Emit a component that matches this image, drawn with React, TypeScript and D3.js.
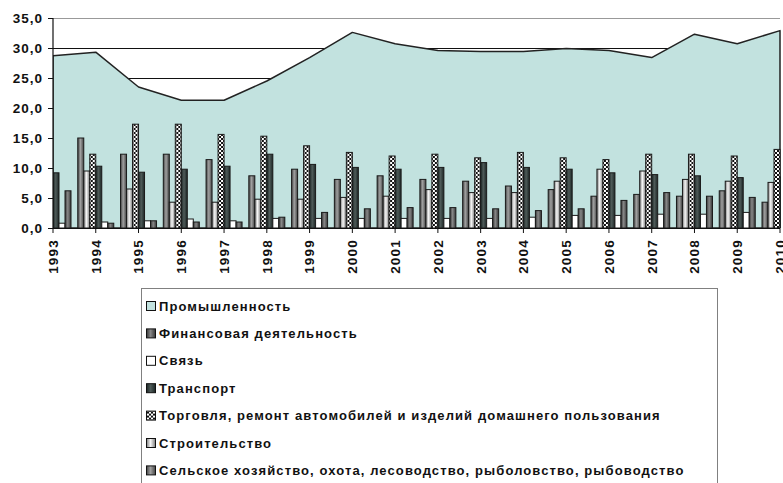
import React from 'react'
import { scaleLinear, scalePoint, scaleBand, area } from 'd3'

let years = ['1993', '1994', '1995', '1996', '1997', '1998', '1999', '2000', '2001', '2002', '2003', '2004', '2005', '2006', '2007', '2008', '2009', '2010']

// area series
let industry = [28.7, 29.3, 23.5, 21.3, 21.3, 24.5, 28.4, 32.6, 30.7, 29.6, 29.4, 29.4, 29.9, 29.6, 28.4, 32.3, 30.7, 32.9]

// bar series (cluster order left -> right)
let agriculture = [14.0, 15.0, 12.3, 12.3, 11.4, 8.7, 9.8, 8.1, 8.7, 8.1, 7.8, 7.0, 6.4, 5.3, 5.6, 5.3, 6.2, 4.3]
let construction = [10.0, 9.5, 6.5, 4.3, 4.3, 4.8, 4.8, 5.1, 5.3, 6.4, 5.9, 5.9, 7.8, 9.8, 9.5, 8.1, 7.8, 7.6]
let trade = [9.0, 12.3, 17.3, 17.3, 15.6, 15.3, 13.7, 12.6, 12.0, 12.3, 11.7, 12.6, 11.7, 11.4, 12.3, 12.3, 12.0, 13.1]
let transport = [9.2, 10.3, 9.3, 9.8, 10.3, 12.3, 10.6, 10.1, 9.8, 10.1, 10.9, 10.1, 9.8, 9.2, 8.9, 8.7, 8.4, 8.5]
let communication = [0.8, 1.0, 1.2, 1.5, 1.2, 1.6, 1.6, 1.6, 1.6, 1.6, 1.6, 1.8, 2.1, 2.1, 2.3, 2.3, 2.6, 2.8]
let finance = [6.2, 0.8, 1.2, 1.0, 1.0, 1.8, 2.6, 3.2, 3.4, 3.4, 3.2, 2.9, 3.2, 4.6, 5.9, 5.3, 5.1, 5.5]

let yTicks = [0, 5, 10, 15, 20, 25, 30, 35]

let barSeries = [
    { key: 'agr', name: 'Сельское хозяйство, охота, лесоводство, рыболовство, рыбоводство', values: agriculture, fill: 'url(#gAgr)' },
    { key: 'con', name: 'Строительство', values: construction, fill: 'url(#gCon)' },
    { key: 'trd', name: 'Торговля, ремонт автомобилей и изделий домашнего пользования', values: trade, fill: 'checker' },
    { key: 'trn', name: 'Транспорт', values: transport, fill: 'url(#gTrn)' },
    { key: 'com', name: 'Связь', values: communication, fill: '#ffffff' },
    { key: 'fin', name: 'Финансовая деятельность', values: finance, fill: 'url(#gFin)' },
]

let font = '"Liberation Sans", Arial, sans-serif'

let App = () => {
    let width = 783
    let height = 483
    let left = 53, right = 780, top = 18, bottom = 228

    let x = scalePoint<string>().domain(years).range([left, right])
    let y = scaleLinear().domain([0, 35]).range([bottom, top])
    let sub = scaleBand<string>().domain(barSeries.map(s => s.key)).range([-18, 18])

    let areaPath = area<number>()
        .x((d, i) => x(years[i]) as number)
        .y0(bottom)
        .y1(d => y(d))(industry)

    let legendItems = [
        { name: 'Промышленность', fill: '#c2e2df' },
        ...barSeries.slice().reverse().map(s => ({ name: s.name, fill: s.fill === 'checker' ? 'url(#chkL)' : s.fill })),
    ]

    let grad = (id: string, edge: string, mid: string) => (
        <linearGradient id={id} x1='0' x2='1' y1='0' y2='0'>
            <stop offset='0' stopColor={edge} />
            <stop offset='0.45' stopColor={mid} />
            <stop offset='1' stopColor={edge} />
        </linearGradient>
    )

    return (
        <svg width={width} height={height} style={{ position: 'absolute', left: 0, top: 0, background: '#fff' }} fontFamily={font}>
            <defs>
                {grad('gAgr', '#444', '#a0a0a0')}
                {grad('gCon', '#7a7a7a', '#f6f6f6')}
                {grad('gTrn', '#1c2625', '#4f5b59')}
                {grad('gFin', '#363636', '#888')}
                <clipPath id='plot'>
                    <rect x={left} y={top - 2} width={right - left + 1} height={bottom - top + 2} />
                </clipPath>
                {years.map((yr, i) => {
                    let bx = (x(yr) as number) + (sub('trd') as number)
                    return (
                        <pattern key={yr} id={'chk' + i} patternUnits='userSpaceOnUse' x={bx + 1} y={0} width={4} height={4}>
                            <rect width={4} height={4} fill='#fff' />
                            <rect x={0} y={0} width={2} height={2} fill='#111' />
                            <rect x={2} y={2} width={2} height={2} fill='#111' />
                        </pattern>
                    )
                })}
                <pattern id='chkL' patternUnits='userSpaceOnUse' x={147} y={0} width={4} height={4}>
                    <rect width={4} height={4} fill='#fff' />
                    <rect x={0} y={0} width={2} height={2} fill='#111' />
                    <rect x={2} y={2} width={2} height={2} fill='#111' />
                </pattern>
            </defs>

            {/* gridlines */}
            {yTicks.filter(t => t > 0).map(t => (
                <line key={t} x1={left} x2={right} y1={Math.round(y(t)) + 0.5} y2={Math.round(y(t)) + 0.5}
                    stroke={t === 35 ? '#999' : '#111'} strokeWidth={1} />
            ))}

            <g clipPath='url(#plot)'>
                <path d={areaPath as string} fill='#c2e2df' stroke='#222' strokeWidth={1.5} strokeLinejoin='round' />
                {barSeries.map(s => (
                    <g key={s.key}>
                        {s.values.map((v, i) => (
                            <rect key={i}
                                x={(x(years[i]) as number) + (sub(s.key) as number)}
                                y={y(v)}
                                width={sub.bandwidth()}
                                height={bottom - y(v)}
                                fill={s.fill === 'checker' ? `url(#chk${i})` : s.fill}
                                stroke='#1a1a1a' strokeWidth={1} />
                        ))}
                    </g>
                ))}
            </g>

            {/* axes */}
            <line x1={left} x2={left} y1={top} y2={bottom} stroke='#111' strokeWidth={1.2} />
            <line x1={left} x2={right} y1={bottom + 0.5} y2={bottom + 0.5} stroke='#111' strokeWidth={1.2} />
            {yTicks.map(t => (
                <g key={t} transform={`translate(0,${Math.round(y(t)) + 0.5})`}>
                    <line x1={left - 5} x2={left} stroke='#111' />
                    <text x={43} dy='0.36em' textAnchor='end' fontSize={13.5} fontWeight='bold' letterSpacing={1} fill='#111'>
                        {t.toFixed(1).replace('.', ',')}
                    </text>
                </g>
            ))}
            {years.map(yr => (
                <g key={yr} transform={`translate(${x(yr)},${bottom})`}>
                    <line y1={0} y2={5} stroke='#111' />
                    <text transform='rotate(-90)' x={-11} dy='0.36em' textAnchor='end' fontSize={13.5} fontWeight='bold' letterSpacing={1.2} fill='#111'>
                        {yr}
                    </text>
                </g>
            ))}

            {/* legend */}
            <rect x={141.5} y={288.5} width={576} height={220} fill='#fff' stroke='#808080' />
            {legendItems.map((d, i) => {
                let ly = 306 + i * 27.4
                return (
                    <g key={d.name} transform={`translate(0,${ly})`}>
                        <rect x={146.5} y={-4.5} width={9} height={9} fill={d.fill} stroke='#111' />
                        <text x={159} dy='0.36em' fontSize={13} fontWeight='bold' letterSpacing={1.1} fill='#111'>{d.name}</text>
                    </g>
                )
            })}
        </svg>
    )
}

export default App
